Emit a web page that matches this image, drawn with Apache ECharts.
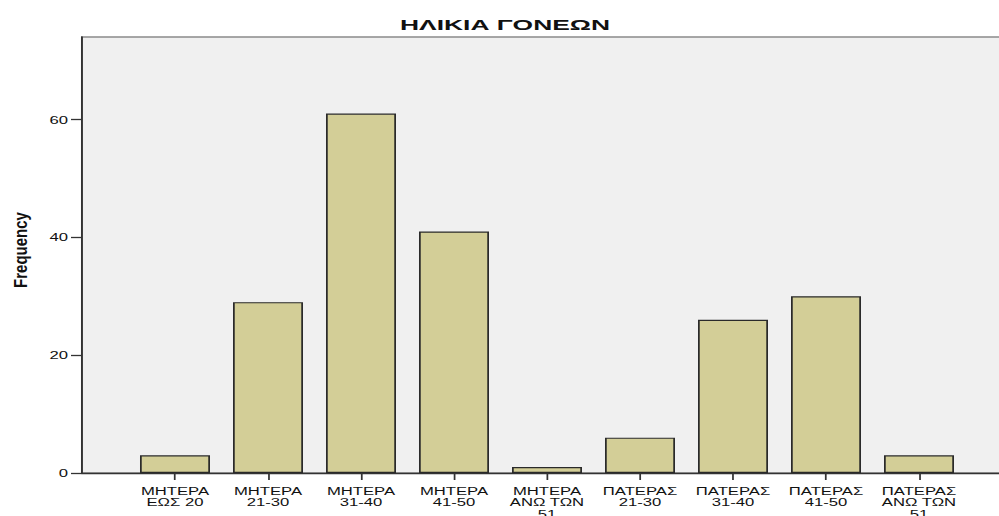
<!DOCTYPE html>
<html>
<head>
<meta charset="utf-8">
<script src="https://cdn.jsdelivr.net/npm/echarts@6/dist/echarts.min.js"></script>
<style>
  html, body { margin: 0; padding: 0; background: #fff; overflow: hidden; }
  /* the SPSS export has wide, horizontally stretched lettering, so the whole
     chart is drawn narrower and stretched back out to 999px */
  #chart { height: 516px; transform-origin: 0 0; }
</style>
</head>
<body>
<div id="chart"></div>
<script>
// ΗΛΙΚΙΑ ΓΟΝΕΩΝ - frequencies per parent age group
const categories = [
  'ΜΗΤΕΡΑ\nΕΩΣ 20',
  'ΜΗΤΕΡΑ\n21-30',
  'ΜΗΤΕΡΑ\n31-40',
  'ΜΗΤΕΡΑ\n41-50',
  'ΜΗΤΕΡΑ\nΑΝΩ ΤΩΝ\n51',
  'ΠΑΤΕΡΑΣ\n21-30',
  'ΠΑΤΕΡΑΣ\n31-40',
  'ΠΑΤΕΡΑΣ\n41-50',
  'ΠΑΤΕΡΑΣ\nΑΝΩ ΤΩΝ\n51'
]
const frequency = [3, 29, 61, 41, 1, 6, 26, 30, 3]
const yTicks = [0, 20, 40, 60]

// categories sit on positions 1..9 of a 0..10 axis (SPSS style padding)
const positions = categories.map((c, i) => i + 1)

const stretch = 1.45
const el = document.getElementById('chart')
el.style.width = (999 / stretch) + 'px'
el.style.transform = 'scaleX(' + stretch + ')'

const chart = echarts.init(el, null, { renderer: 'svg' })
const font = '"Liberation Sans", Arial, sans-serif'
const px = v => v / stretch // final-pixel widths -> pre-stretch widths

const option = {
  animation: false,
  graphic: [
    {
      type: 'text',
      x: px(505),
      y: 25,
      scaleX: 1.3,
      style: {
        text: 'ΗΛΙΚΙΑ ΓΟΝΕΩΝ',
        font: 'bold 14px ' + font,
        fill: '#111',
        textAlign: 'center',
        textVerticalAlign: 'middle'
      }
    },
    {
      type: 'text',
      x: px(21),
      y: 250,
      rotation: Math.PI / 2,
      scaleY: 0.82,
      style: {
        text: 'Frequency',
        font: 'bold 15px "Liberation Sans Narrow", "Liberation Sans", Arial, sans-serif',
        fill: '#111',
        textAlign: 'center',
        textVerticalAlign: 'middle'
      }
    }
  ],
  grid: {
    left: px(82),
    top: 37,
    width: px(930),
    bottom: 43,
    outerBoundsMode: 'none',
    show: true,
    backgroundColor: '#f0f0f0',
    borderColor: '#8a8a8a',
    borderWidth: 1.3
  },
  xAxis: {
    type: 'value',
    min: 0,
    max: 10,
    interval: 1,
    splitLine: { show: false },
    axisLine: { show: true, lineStyle: { color: '#333', width: 1.3 } },
    axisTick: {
      show: true,
      length: 7,
      customValues: positions,
      lineStyle: { color: '#333', width: 1.2 }
    },
    axisLabel: {
      customValues: positions,
      margin: 12,
      fontFamily: font,
      fontSize: 11.5,
      lineHeight: 11.5,
      color: '#111',
      formatter: v => categories[v - 1] || ''
    }
  },
  yAxis: {
    type: 'value',
    min: 0,
    max: 74,
    interval: 20,
    splitLine: { show: false },
    axisLine: { show: true, lineStyle: { color: '#333', width: 1.3 } },
    axisTick: {
      show: true,
      length: px(11),
      customValues: yTicks,
      lineStyle: { color: '#333', width: 1.3 }
    },
    axisLabel: {
      customValues: yTicks,
      margin: px(14),
      fontFamily: font,
      fontSize: 11.5,
      color: '#111'
    }
  },
  series: [
    {
      type: 'bar',
      barWidth: px(70),
      data: positions.map((x, i) => [x, frequency[i]]),
      itemStyle: {
        color: '#d3ce97',
        borderColor: '#2a2a2a',
        borderWidth: 1.2
      }
    }
  ]
}

chart.setOption(option)
</script>
</body>
</html>
